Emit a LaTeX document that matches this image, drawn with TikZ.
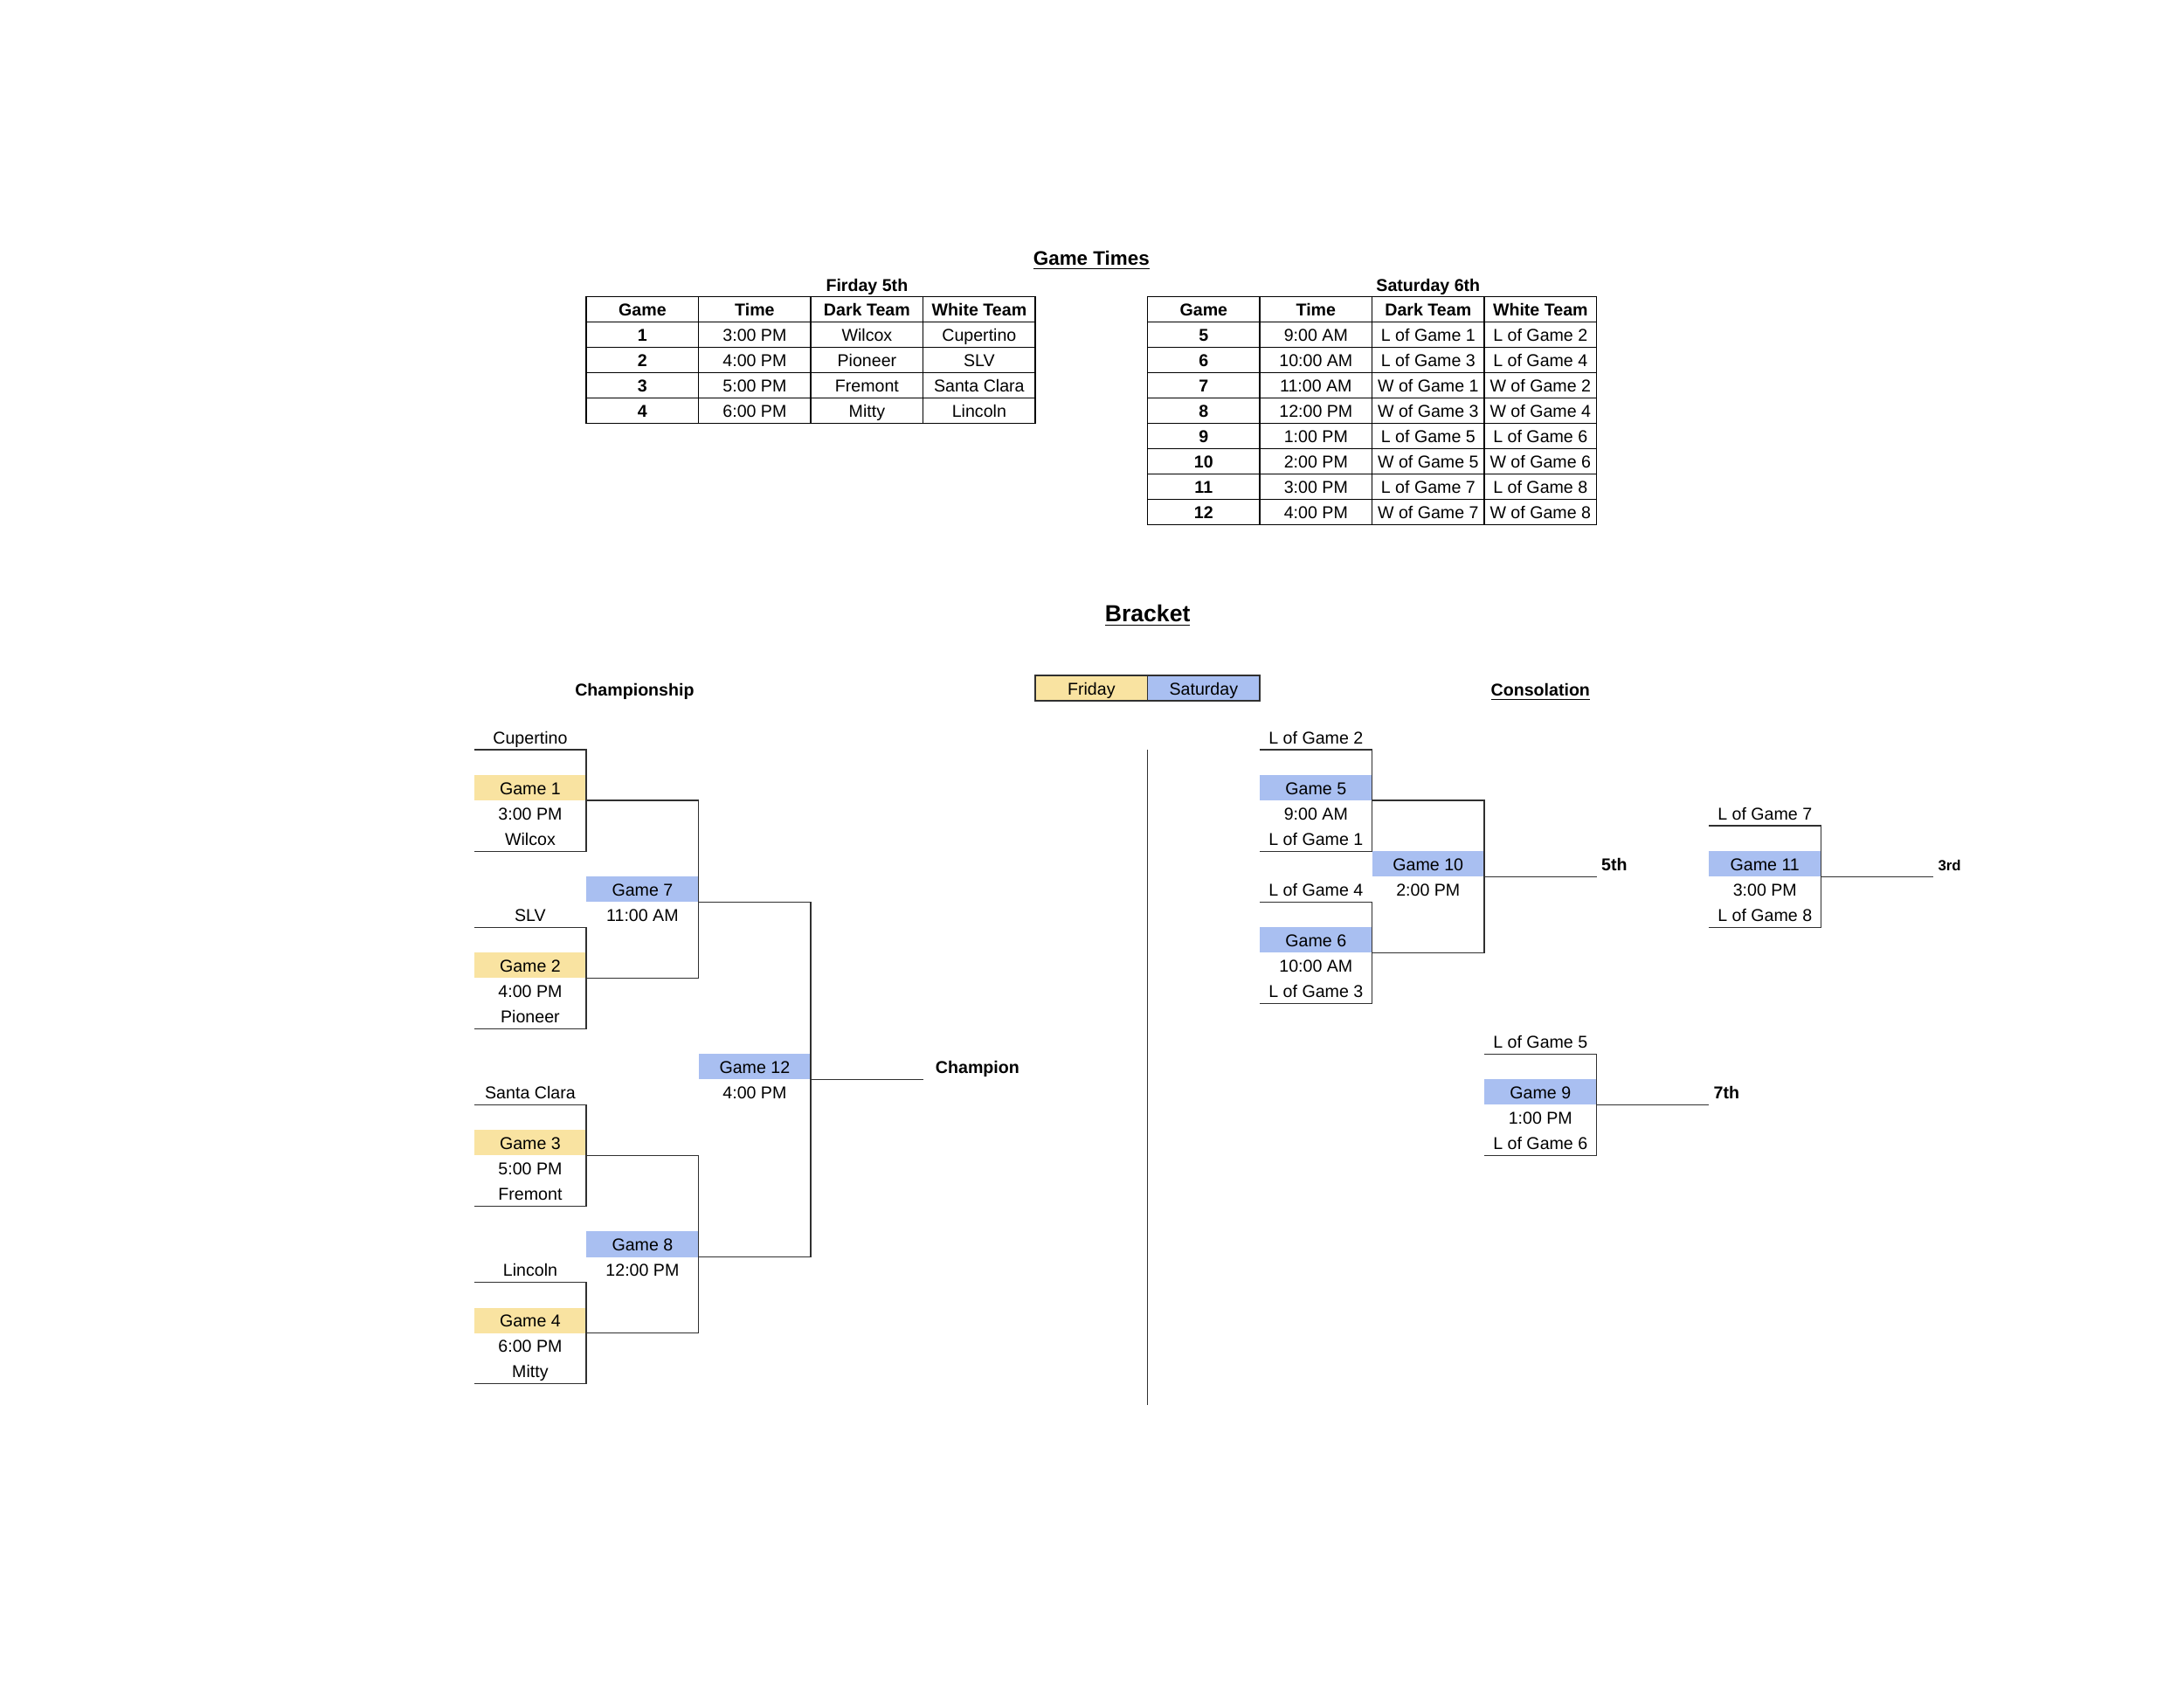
\documentclass[tikz,border=0pt]{standalone}
\usepackage{fontspec}
\setmainfont{Liberation Sans}
\usetikzlibrary{positioning}
\definecolor{friday}{HTML}{F9E3A1}
\definecolor{saturday}{HTML}{A9BFF1}
\definecolor{rule}{HTML}{303030}

\begin{document}
\begin{tikzpicture}[x=1.6116cm, y=-0.364cm, font=\fontsize{7}{8}\selectfont,
    cell/.style={minimum width=1.6116cm, minimum height=0.364cm, inner sep=0pt, outer sep=0pt, text height=7pt, text depth=1.5pt},
    tab/.style={cell, draw=black, line width=0.5pt},
    hd/.style={tab, font=\fontsize{7}{8}\selectfont\bfseries},
    res/.style={cell, minimum width=0pt, inner xsep=0.07cm, anchor=south west, font=\fontsize{7}{8}\selectfont\bfseries},
    ttl/.style={font=\fontsize{7}{8}\selectfont\bfseries, text height=7pt, text depth=1.5pt},
    wire/.style={draw=rule, line width=0.5pt}]
    \useasboundingbox (-4.224,-28.571) rectangle (15.234,38.022);

    % game times
    \node[font=\fontsize{8}{9}\selectfont\bfseries] (times) at (5.5,-18.3) {\underline{Game Times}};
    \node[ttl] (fday) at (3.5,-17.33) {Firday 5th};
    \node[ttl] (sday) at (8.5,-17.33) {Saturday 6th};
    \foreach \t [count=\i] in {Game,Time,Dark Team,White Team} {
      \node[hd] (fh\i) at (\i+0.5,-16.37) {\t};
      \node[hd] (sh\i) at (\i+5.5,-16.37) {\t};
    }
    \foreach \g/\tm/\dk/\wt [count=\j] in {1/3:00 PM/Wilcox/Cupertino, 2/4:00 PM/Pioneer/SLV,
        3/5:00 PM/Fremont/Santa Clara, 4/6:00 PM/Mitty/Lincoln} {
      \node[hd] (fa\j) at (1.5,-16.37+\j) {\g};
      \node[tab] (fb\j) at (2.5,-16.37+\j) {\tm};
      \node[tab] (fc\j) at (3.5,-16.37+\j) {\dk};
      \node[tab] (fd\j) at (4.5,-16.37+\j) {\wt};
    }
    \foreach \g/\tm/\dk/\wt [count=\j] in {5/9:00 AM/L of Game 1/L of Game 2, 6/10:00 AM/L of Game 3/L of Game 4,
        7/11:00 AM/W of Game 1/W of Game 2, 8/12:00 PM/W of Game 3/W of Game 4,
        9/1:00 PM/L of Game 5/L of Game 6, 10/2:00 PM/W of Game 5/W of Game 6,
        11/3:00 PM/L of Game 7/L of Game 8, 12/4:00 PM/W of Game 7/W of Game 8} {
      \node[hd] (sa\j) at (6.5,-16.37+\j) {\g};
      \node[tab] (sb\j) at (7.5,-16.37+\j) {\tm};
      \node[tab] (sc\j) at (8.5,-16.37+\j) {\dk};
      \node[tab] (sd\j) at (9.5,-16.37+\j) {\wt};
    }

    % bracket headings
    \node[font=\fontsize{9.5}{11}\selectfont\bfseries] (brk) at (6,-4.3) {\underline{Bracket}};
    \node[ttl] (champs) at (1.43,-1.4) {Championship};
    \node[ttl] (cons) at (9.5,-1.4) {\underline{Consolation}};
    \node[cell, fill=friday, draw=rule, line width=0.6pt] (lfri) at (5.5,-1.43) {Friday};
    \node[cell, fill=saturday, draw=rule, line width=0.6pt] (lsat) at (6.5,-1.43) {Saturday};

    % first games of each block
    \foreach \g/\c/\r/\ta/\tm/\tb/\s in {1/0/0/Cupertino/3:00 PM/Wilcox/friday,
        2/0/7/SLV/4:00 PM/Pioneer/friday, 3/0/14/Santa Clara/5:00 PM/Fremont/friday,
        4/0/21/Lincoln/6:00 PM/Mitty/friday, 5/7/0/L of Game 2/9:00 AM/L of Game 1/saturday,
        6/7/6/L of Game 4/10:00 AM/L of Game 3/saturday, 11/11/3/L of Game 7/3:00 PM/L of Game 8/saturday,
        9/9/12/L of Game 5/1:00 PM/L of Game 6/saturday} {
      \node[cell] (a\g) at (\c+0.5,\r+0.5) {\ta};
      \node[cell, fill=\s] (g\g) at (\c+0.5,\r+2.5) {Game \g};
      \node[cell] (m\g) at (\c+0.5,\r+3.5) {\tm};
      \node[cell] (b\g) at (\c+0.5,\r+4.5) {\tb};
      \draw[wire] (a\g.south west) -- (a\g.south east) |- (b\g.south west);
    }

    % later games
    \foreach \g/\c/\r/\tm in {7/1/6/11:00 AM, 8/1/20/12:00 PM, 12/2/13/4:00 PM, 10/8/5/2:00 PM} {
      \node[cell, fill=saturday] (g\g) at (\c+0.5,\r+0.5) {Game \g};
      \node[cell] (m\g) at (\c+0.5,\r+1.5) {\tm};
    }
    \node[res, inner xsep=0.18cm] (champ) at (4,14) {Champion};
    \node[res] (p5) at (10,6) {5th};
    \node[res, font=\fontsize{6}{7}\selectfont\bfseries] (p3) at (13,6) {3rd};
    \node[res] (p7) at (11,15) {7th};

    \draw[wire] (g1.south east) -| (g7.south east) |- (g2.south east);
    \draw[wire] (g3.south east) -| (g8.south east) |- (g4.south east);
    \draw[wire] (g7.south east) -| (g12.south east) |- (g8.south east);
    \draw[wire] (g12.south east) -- (champ.south west);
    \draw[wire] (g5.south east) -| (g10.south east) |- (g6.south east);
    \draw[wire] (g10.south east) -- (p5.south west);
    \draw[wire] (g11.south east) -- (p3.south west);
    \draw[wire] (g9.south east) -- (p7.south west);

    % divider
    \draw[wire] (6,1) -- (6,26.85);
  \end{tikzpicture}
\end{document}
